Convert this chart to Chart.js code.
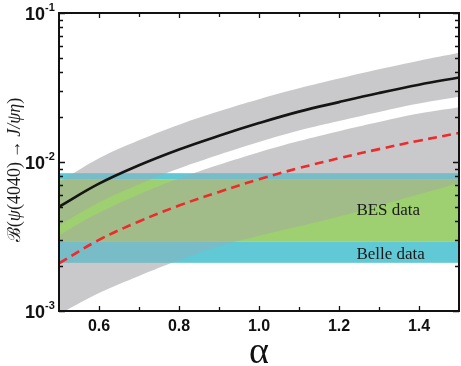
<!DOCTYPE html>
<html>
<head>
<meta charset="utf-8">
<script src="https://cdn.jsdelivr.net/npm/chart.js@4/dist/chart.umd.min.js"></script>
<style>
  html, body { margin: 0; padding: 0; background: #ffffff; }
  #wrap { width: 461px; height: 366px; }
</style>
</head>
<body>
<div id="wrap"><canvas id="c" width="461" height="366"></canvas></div>
<script>
// ---------- data ----------
const alpha = [0.5, 0.6, 0.7, 0.8, 0.9, 1.0, 1.1, 1.2, 1.3, 1.4, 1.5];
const centralSolid = [0.0050, 0.00715, 0.0095, 0.01213, 0.0150, 0.01824, 0.02178, 0.02523, 0.02904, 0.03304, 0.0369];
const solidBandHigh = [0.0073, 0.0106, 0.0140, 0.0178, 0.0219, 0.0264, 0.0312, 0.0363, 0.0419, 0.0478, 0.0541];
const solidBandLow = [0.00376, 0.00534, 0.00709, 0.00905, 0.01119, 0.01361, 0.01625, 0.01883, 0.02167, 0.02466, 0.0274];
const centralDashed = [0.00209, 0.0030, 0.00399, 0.0051, 0.0063, 0.00766, 0.0091, 0.0106, 0.0122, 0.0139, 0.01566];
const dashedBandHigh = [0.00323, 0.00456, 0.00606, 0.00775, 0.00958, 0.01164, 0.01383, 0.01611, 0.01854, 0.02113, 0.0233];
const dashedBandLow = [0.00095, 0.00132, 0.00172, 0.00219, 0.00272, 0.0032, 0.0037, 0.0043, 0.0051, 0.00607, 0.00723];
const besRange = [0.00292, 0.00765];     // BES data  [low, high]
const belleRange = [0.00211, 0.0084];    // Belle data [low, high]
const xRange = [0.5, 1.5];
const yRange = [0.001, 0.1];
const xTickValues = [0.6, 0.7, 0.8, 0.9, 1.0, 1.1, 1.2, 1.3, 1.4];
const xLabelValues = [0.6, 0.8, 1.0, 1.2, 1.4];
const xTickLabels = ['0.6', '0.8', '1.0', '1.2', '1.4'];
const yMajorValues = [0.1, 0.01, 0.001];
const yMajorExponents = ['-1', '-2', '-3'];
const yMinorMultipliers = [2, 3, 4, 5, 6, 7, 8, 9];
const bandLabels = ['BES data', 'Belle data'];
const bandLabelPos = [[1.2435, 0.00471], [1.2435, 0.00240]];
const xTitle = 'α';

// ---------- helpers ----------
const pts = (ys) => alpha.map((a, i) => ({ x: a, y: ys[i] }));
const flat = (v) => xRange.map(a => ({ x: a, y: v }));

const GREEN = '#9ecf70';
const GREEN_OVER = 'rgba(158,207,112,0.25)';
const GRAY = 'rgba(165,165,169,0.6)';
const CYAN = 'rgba(98,200,214,1)';
const CYAN_OVER = 'rgba(98,200,214,0.45)';

const hidden = { borderWidth: 0, borderColor: 'rgba(0,0,0,0)', pointRadius: 0, clip: 0 };

const datasets = [
  // 0,1 : BES band (green)
  Object.assign({ data: flat(besRange[1]), fill: 1, backgroundColor: GREEN, order: 10 }, hidden),
  Object.assign({ data: flat(besRange[0]), fill: false, order: 10 }, hidden),
  // 2,3 : band around solid line
  Object.assign({ data: pts(solidBandHigh), fill: 3, backgroundColor: GRAY, order: 8, tension: 0.4 }, hidden),
  Object.assign({ data: pts(solidBandLow), fill: false, order: 8, tension: 0.4 }, hidden),
  // 4,5 : band around dashed line
  Object.assign({ data: pts(dashedBandHigh), fill: 5, backgroundColor: GRAY, order: 8, tension: 0.4 }, hidden),
  Object.assign({ data: pts(dashedBandLow), fill: false, order: 8, tension: 0.4 }, hidden),
  // 6,7 : Belle band parts outside BES band (cyan)
  Object.assign({ data: flat(belleRange[1]), fill: 0, backgroundColor: CYAN, order: 12 }, hidden),
  Object.assign({ data: flat(belleRange[0]), fill: 1, backgroundColor: CYAN, order: 12 }, hidden),
  // 8 : dashed red line
  { data: pts(centralDashed), borderColor: '#ee2a2a', borderWidth: 2.6, borderDash: [9, 5.5], pointRadius: 0, fill: false, tension: 0.4, order: 2, clip: 0 },
  // 9 : solid black line
  { data: pts(centralSolid), borderColor: '#151515', borderWidth: 2.6, pointRadius: 0, fill: false, tension: 0.4, order: 1, clip: 0 },
  // 10,11 : translucent Belle tint above the gray bands
  Object.assign({ data: flat(belleRange[1]), fill: 0, backgroundColor: CYAN_OVER, order: 5 }, hidden),
  Object.assign({ data: flat(belleRange[0]), fill: 1, backgroundColor: CYAN_OVER, order: 5 }, hidden),
  // 12,13 : translucent BES tint above the gray bands
  Object.assign({ data: flat(besRange[1]), fill: 13, backgroundColor: GREEN_OVER, order: 6 }, hidden),
  Object.assign({ data: flat(besRange[0]), fill: false, order: 6 }, hidden)
];

const decor = {
  id: 'decor',
  afterDraw(chart) {
    const ctx = chart.ctx;
    const a = chart.chartArea;
    const xs = chart.scales.x, ys = chart.scales.y;
    ctx.save();
    ctx.strokeStyle = '#111';
    ctx.fillStyle = '#111';
    // ticks (inward, all four sides)
    ctx.lineWidth = 1.3;
    ctx.beginPath();
    xTickValues.forEach(v => {
      const p = Math.round(xs.getPixelForValue(v)) + 0.5;
      const len = xLabelValues.includes(v) ? 5 : 4;
      ctx.moveTo(p, a.bottom); ctx.lineTo(p, a.bottom - len);
      ctx.moveTo(p, a.top); ctx.lineTo(p, a.top + len);
    });
    yMajorValues.forEach(v => {
      const p = Math.round(ys.getPixelForValue(v)) + 0.5;
      ctx.moveTo(a.left, p); ctx.lineTo(a.left + 6, p);
      ctx.moveTo(a.right, p); ctx.lineTo(a.right - 6, p);
    });
    yMajorValues.slice(1).forEach(dec => {
      yMinorMultipliers.forEach(m => {
        const p = Math.round(ys.getPixelForValue(dec * m)) + 0.5;
        ctx.moveTo(a.left, p); ctx.lineTo(a.left + 4, p);
        ctx.moveTo(a.right, p); ctx.lineTo(a.right - 4, p);
      });
    });
    ctx.stroke();
    // frame
    ctx.lineWidth = 2;
    ctx.strokeRect(a.left, a.top, a.right - a.left, a.bottom - a.top);

    // x tick labels
    ctx.font = 'bold 16px "Liberation Sans", Arial, sans-serif';
    ctx.textAlign = 'center';
    ctx.textBaseline = 'alphabetic';
    xLabelValues.forEach((v, i) => {
      ctx.fillText(xTickLabels[i], xs.getPixelForValue(v), a.bottom + 19.5);
    });
    // y tick labels 10^n
    yMajorValues.forEach((v, i) => {
      const p = ys.getPixelForValue(v);
      ctx.font = 'bold 18px "Liberation Sans", Arial, sans-serif';
      ctx.textAlign = 'right';
      ctx.fillText('10', a.left - 14, p + 6.5);
      ctx.font = 'bold 11px "Liberation Sans", Arial, sans-serif';
      ctx.textAlign = 'left';
      ctx.fillText(yMajorExponents[i], a.left - 14, p - 2);
    });
    // x title
    ctx.font = '38px "Liberation Serif", "DejaVu Serif", serif';
    ctx.textAlign = 'center';
    ctx.fillText(xTitle, (a.left + a.right) / 2, 363);

    // band labels
    ctx.font = '17px "Liberation Serif", "DejaVu Serif", serif';
    ctx.textAlign = 'left';
    ctx.textBaseline = 'middle';
    ctx.fillStyle = '#1a1a1a';
    bandLabels.forEach((t, i) => {
      ctx.fillText(t, xs.getPixelForValue(bandLabelPos[i][0]), ys.getPixelForValue(bandLabelPos[i][1]));
    });

    // y title (rotated)
    const segs = [
      ['ℬ', '18px "DejaVu Serif", serif'],
      ['(', '18px "Liberation Serif", serif'],
      ['ψ', 'italic 18px "Liberation Serif", serif'],
      ['(4040)', '18px "Liberation Serif", serif'],
      ['\u2009→\u2009', '18px "Liberation Serif", serif'],
      ['J/ψη', 'italic 18px "Liberation Serif", serif'],
      [')', '18px "Liberation Serif", serif']
    ];
    let total = 0;
    segs.forEach(s => { ctx.font = s[1]; total += ctx.measureText(s[0]).width; });
    ctx.translate(15, 170);
    ctx.rotate(-Math.PI / 2);
    ctx.textAlign = 'left';
    ctx.textBaseline = 'middle';
    let x = -total / 2;
    segs.forEach(s => { ctx.font = s[1]; ctx.fillText(s[0], x, 0); x += ctx.measureText(s[0]).width; });
    ctx.restore();
  }
};

new Chart(document.getElementById('c'), {
  type: 'line',
  data: { datasets },
  options: {
    responsive: false,
    animation: false,
    devicePixelRatio: 1,
    layout: { padding: { left: 59, right: 2, top: 13, bottom: 55 } },
    plugins: { legend: { display: false }, tooltip: { enabled: false } },
    scales: {
      x: { type: 'linear', min: xRange[0], max: xRange[1], display: false },
      y: { type: 'logarithmic', min: yRange[0], max: yRange[1], display: false }
    }
  },
  plugins: [decor]
});
</script>
</body>
</html>
